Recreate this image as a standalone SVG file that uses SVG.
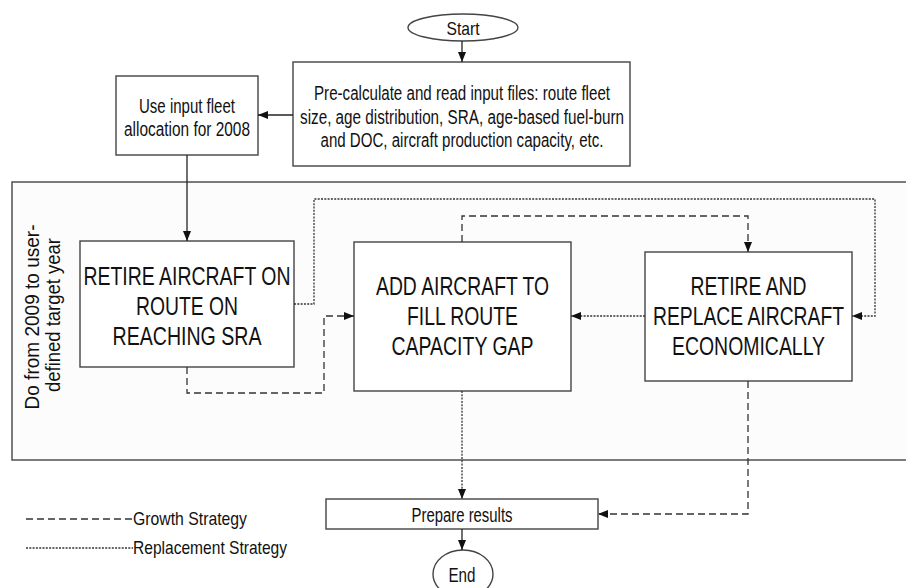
<svg xmlns="http://www.w3.org/2000/svg" width="906" height="588" viewBox="0 0 906 588">
<style>
  .box{fill:#ffffff;stroke:#444;stroke-width:1.4}
  .frame{fill:#fcfcfc;stroke:#444;stroke-width:1.4}
  .t{font-family:"Liberation Sans",Arial,sans-serif;fill:#111;text-anchor:middle}
  .s{font-size:20px}
  .b{font-size:25px}
  .solid{fill:none;stroke:#222;stroke-width:1.3}
  .dash{fill:none;stroke:#333;stroke-width:1.3;stroke-dasharray:7 4}
  .dot{fill:none;stroke:#333;stroke-width:1.3;stroke-dasharray:2 1.3}
</style>
<defs>
  <marker id="ah" markerUnits="userSpaceOnUse" markerWidth="10" markerHeight="10" viewBox="0 0 10 10" refX="10" refY="5" orient="auto">
    <path d="M0,1 L10,5 L0,9 Z" fill="#111"/>
  </marker>
</defs>
<rect width="906" height="588" fill="#ffffff"/>

<g id="loop">
  <rect class="frame" x="12" y="182" width="900" height="278"/>
  <text class="t" font-size="20" transform="translate(39,317) rotate(-90)" textLength="185" lengthAdjust="spacingAndGlyphs">Do from 2009 to user-</text>
  <text class="t" font-size="20" transform="translate(60,315) rotate(-90)" textLength="154" lengthAdjust="spacingAndGlyphs">defined target year</text>
</g>

<g id="start">
  <ellipse class="box" cx="463" cy="27.5" rx="55" ry="13.5"/>
  <text class="t" font-size="19" x="463" y="34.5" textLength="33" lengthAdjust="spacingAndGlyphs">Start</text>
</g>

<g id="precalc">
  <rect class="box" x="293" y="62" width="337" height="104"/>
  <text class="t s" x="462" y="100" textLength="296" lengthAdjust="spacingAndGlyphs">Pre-calculate and read input files: route fleet</text>
  <text class="t s" x="462" y="123.5" textLength="324" lengthAdjust="spacingAndGlyphs">size, age distribution, SRA, age-based fuel-burn</text>
  <text class="t s" x="462" y="147" textLength="283" lengthAdjust="spacingAndGlyphs">and DOC, aircraft production capacity, etc.</text>
</g>

<g id="useinput">
  <rect class="box" x="116" y="76" width="142" height="79"/>
  <text class="t s" x="187" y="112.5" textLength="96" lengthAdjust="spacingAndGlyphs">Use input fleet</text>
  <text class="t s" x="187" y="135.5" textLength="126" lengthAdjust="spacingAndGlyphs">allocation for 2008</text>
</g>

<g id="retire">
  <rect class="box" x="80" y="241" width="214" height="126"/>
  <text class="t b" x="187" y="285" textLength="207" lengthAdjust="spacingAndGlyphs">RETIRE AIRCRAFT ON</text>
  <text class="t b" x="187" y="315" textLength="102" lengthAdjust="spacingAndGlyphs">ROUTE ON</text>
  <text class="t b" x="187" y="345" textLength="149" lengthAdjust="spacingAndGlyphs">REACHING SRA</text>
</g>

<g id="add">
  <rect class="box" x="354" y="242" width="217" height="149"/>
  <text class="t b" x="462.5" y="295" textLength="173" lengthAdjust="spacingAndGlyphs">ADD AIRCRAFT TO</text>
  <text class="t b" x="462.5" y="325" textLength="111" lengthAdjust="spacingAndGlyphs">FILL ROUTE</text>
  <text class="t b" x="462.5" y="355" textLength="142" lengthAdjust="spacingAndGlyphs">CAPACITY GAP</text>
</g>

<g id="replace">
  <rect class="box" x="645" y="252" width="207" height="129"/>
  <text class="t b" x="748.5" y="295" textLength="116" lengthAdjust="spacingAndGlyphs">RETIRE AND</text>
  <text class="t b" x="748.5" y="325" textLength="191" lengthAdjust="spacingAndGlyphs">REPLACE AIRCRAFT</text>
  <text class="t b" x="748.5" y="355" textLength="153" lengthAdjust="spacingAndGlyphs">ECONOMICALLY</text>
</g>

<g id="prepare">
  <rect class="box" x="326" y="499" width="272" height="30"/>
  <text class="t s" x="462" y="521.5" textLength="101" lengthAdjust="spacingAndGlyphs">Prepare results</text>
</g>

<g id="end">
  <ellipse class="box" cx="463" cy="574" rx="30" ry="24"/>
  <text class="t s" x="462" y="582" textLength="27" lengthAdjust="spacingAndGlyphs">End</text>
</g>

<g id="legend">
  <line class="dash" x1="26" y1="519" x2="133" y2="519"/>
  <text class="t" font-size="19" x="190" y="524.5" textLength="114" lengthAdjust="spacingAndGlyphs">Growth Strategy</text>
  <line class="dot" x1="26" y1="548" x2="133" y2="548"/>
  <text class="t" font-size="19" x="210" y="554" textLength="154" lengthAdjust="spacingAndGlyphs">Replacement Strategy</text>
</g>

<g id="connectors">
  <path class="solid" d="M462,41 V62" marker-end="url(#ah)"/>
  <path class="solid" d="M293,115 H258" marker-end="url(#ah)"/>
  <path class="solid" d="M187,155 V241" marker-end="url(#ah)"/>
  <path class="dot" d="M294,304 H314 V199 H875 V316 H852" marker-end="url(#ah)"/>
  <path class="dash" d="M187,367 V393 H324 V316 H354" marker-end="url(#ah)"/>
  <path class="dash" d="M462,242 V216 H748 V252" marker-end="url(#ah)"/>
  <path class="dot" d="M645,316 H571" marker-end="url(#ah)"/>
  <path class="dot" d="M462,391 V499" marker-end="url(#ah)"/>
  <path class="dash" d="M748,381 V514 H598" marker-end="url(#ah)"/>
  <path class="solid" d="M462,529 V550" marker-end="url(#ah)"/>
</g>
</svg>
